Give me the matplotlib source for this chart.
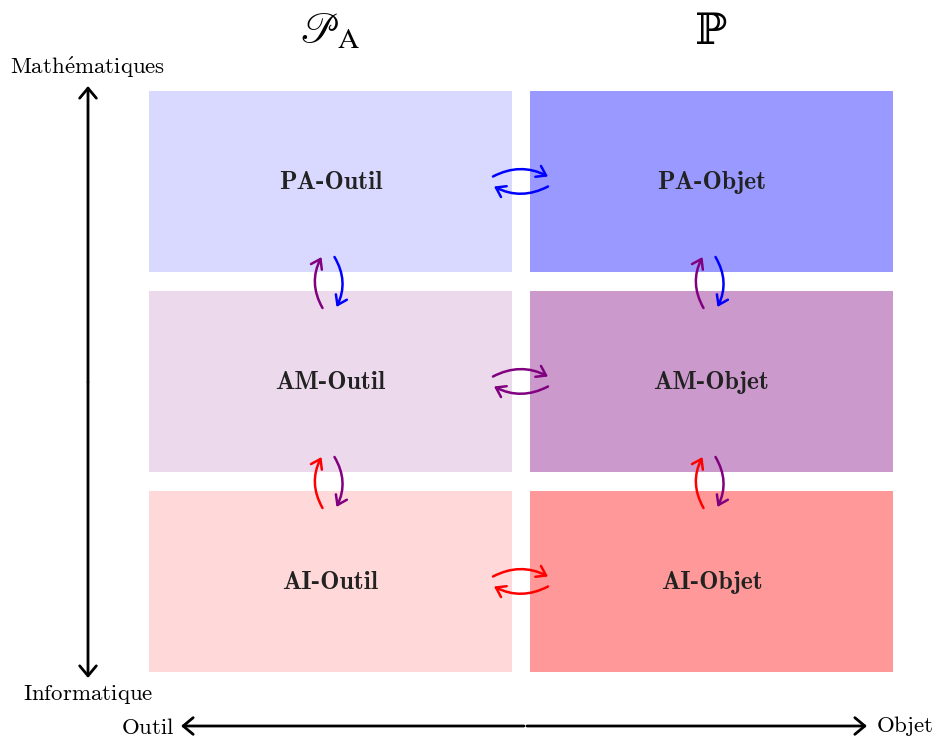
import matplotlib.pyplot as plt
from matplotlib.patches import Rectangle, FancyArrowPatch

# grille 3 x 2 : lignes = niveau, colonnes = outil / objet
rows = ['PA', 'AM', 'AI']
cols = ['Outil', 'Objet']
row_colors = ['#0000ff', '#800080', '#ff0000']
fills = [['#d9d9ff', '#9999ff'],
         ['#ecd9ec', '#cc99cc'],
         ['#ffd9d9', '#ff9999']]
col_titles = [r'$\mathscr{P}_{\mathrm{A}}$', '\u2119']
y_labels = [r'$\mathrm{Math\acute{e}matiques}$', r'$\mathrm{Informatique}$']
x_labels = [r'$\mathrm{Outil}$', r'$\mathrm{Objet}$']

plt.rcParams['mathtext.fontset'] = 'cm'

fig = plt.figure(figsize=(9.36, 7.40), dpi=100)
ax = fig.add_axes([0, 0, 1, 1])
ax.set_xlim(0, 936)
ax.set_ylim(740, 0)
ax.axis('off')

x0 = [149, 530]
y0 = [91, 291, 491]
w, h = 363, 181

small = '->,head_length=0.32,head_width=0.22'
big = '->,head_length=0.36,head_width=0.3'


def arrow(p1, p2, color, rad, lw=1.8, head=small):
    ax.add_patch(FancyArrowPatch(p1, p2, connectionstyle='arc3,rad=%s' % rad,
                                 arrowstyle=head, color=color, lw=lw,
                                 shrinkA=0, shrinkB=0, mutation_scale=20))


for i, r in enumerate(rows):
    for j, c in enumerate(cols):
        ax.add_patch(Rectangle((x0[j], y0[i]), w, h, color=fills[i][j], lw=0))
        ax.text(x0[j] + w / 2, y0[i] + h / 2 + 1, r + '-' + c, family='cmb10',
                fontsize=18.5, ha='center', va='center', color='#222222')
    # fleches horizontales entre outil et objet
    cy = y0[i] + h / 2
    arrow((493, cy - 5), (548, cy - 5), row_colors[i], -0.26)
    arrow((548, cy + 5), (494, cy + 5), row_colors[i], -0.26)

# fleches verticales entre deux lignes
for i in range(len(rows) - 1):
    top = y0[i] + h - 15
    bot = y0[i + 1] + 17
    for j in range(len(cols)):
        cx = x0[j] + w / 2 - 1
        arrow((cx - 7, bot), (cx - 8, top), row_colors[i + 1], -0.27)
        arrow((cx + 5, top), (cx + 7, bot - 1), row_colors[i], -0.27)

ax.text(x0[0] + w / 2, 31, col_titles[0], math_fontfamily='stix', fontsize=30,
        ha='center', va='center')
ax.text(x0[1] + w / 2, 32, col_titles[1], family=['DejaVu Serif', 'DejaVu Sans'],
        fontsize=31, ha='center', va='center')

# axes
arrow((88, 382), (88, 86), 'black', 0, lw=2, head=big)
arrow((88, 382), (88, 678), 'black', 0, lw=2, head=big)
arrow((524, 726), (181, 726), 'black', 0, lw=2, head=big)
arrow((527, 726), (867, 726), 'black', 0, lw=2, head=big)

ax.text(88, 67, y_labels[0], fontsize=16.5, ha='center', va='center')
ax.text(88, 694, y_labels[1], fontsize=16.5, ha='center', va='center')
ax.text(175, 727, x_labels[0], fontsize=16.5, ha='right', va='center')
ax.text(876, 726, x_labels[1], fontsize=16.5, ha='left', va='center')

fig.savefig('out.png', dpi=100)
